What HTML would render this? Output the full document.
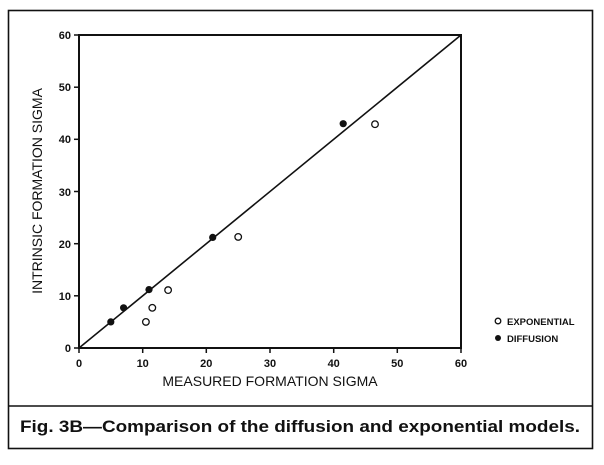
<!DOCTYPE html>
<html><head><style>
body{margin:0;background:#fff;width:604px;height:460px;overflow:hidden}
text{font-family:"Liberation Sans",sans-serif;fill:#111}
</style></head><body>
<svg width="604" height="460" viewBox="0 0 604 460">
<rect x="8.5" y="10.5" width="584" height="438" fill="none" stroke="#111" stroke-width="1.6"/>
<line x1="8" y1="406" x2="593" y2="406" stroke="#111" stroke-width="1.6"/>
<text x="20" y="432" font-size="16.5" font-weight="bold" textLength="560" lengthAdjust="spacingAndGlyphs">Fig. 3B—Comparison of the diffusion and exponential models.</text>
<rect x="79" y="35" width="382" height="313" fill="none" stroke="#111" stroke-width="2"/>
<line x1="79" y1="348" x2="461" y2="35" stroke="#111" stroke-width="1.6"/>
<g stroke="#111" stroke-width="1.5">
<line x1="74" y1="348" x2="79" y2="348"/><line x1="74" y1="295.8" x2="79" y2="295.8"/><line x1="74" y1="243.7" x2="79" y2="243.7"/><line x1="74" y1="191.5" x2="79" y2="191.5"/><line x1="74" y1="139.3" x2="79" y2="139.3"/><line x1="74" y1="87.2" x2="79" y2="87.2"/><line x1="74" y1="35" x2="79" y2="35"/>
<line x1="79" y1="348" x2="79" y2="353"/><line x1="142.7" y1="348" x2="142.7" y2="353"/><line x1="206.3" y1="348" x2="206.3" y2="353"/><line x1="270" y1="348" x2="270" y2="353"/><line x1="333.7" y1="348" x2="333.7" y2="353"/><line x1="397.3" y1="348" x2="397.3" y2="353"/><line x1="461" y1="348" x2="461" y2="353"/>
</g>
<g font-size="11" font-weight="bold" text-anchor="end">
<text x="71" y="352">0</text><text x="71" y="300">10</text><text x="71" y="248">20</text><text x="71" y="196">30</text><text x="71" y="143">40</text><text x="71" y="91">50</text><text x="71" y="39">60</text>
</g>
<g font-size="11" font-weight="bold" text-anchor="middle">
<text x="79" y="367">0</text><text x="142.7" y="367">10</text><text x="206.3" y="367">20</text><text x="270" y="367">30</text><text x="333.7" y="367">40</text><text x="397.3" y="367">50</text><text x="461" y="367">60</text>
</g>
<text x="270" y="386" font-size="14" text-anchor="middle">MEASURED FORMATION SIGMA</text>
<text transform="translate(42,191) rotate(-90)" font-size="14" text-anchor="middle">INTRINSIC FORMATION SIGMA</text>
<g fill="#111">
<circle cx="110.8" cy="321.9" r="3.6"/><circle cx="123.6" cy="307.8" r="3.6"/><circle cx="149" cy="289.6" r="3.6"/><circle cx="212.7" cy="237.4" r="3.6"/><circle cx="343.2" cy="123.7" r="3.6"/>
</g>
<g fill="#fff" stroke="#111" stroke-width="1.3">
<circle cx="145.9" cy="321.9" r="3.3"/><circle cx="152.3" cy="307.8" r="3.3"/><circle cx="168.1" cy="290.1" r="3.3"/><circle cx="238.2" cy="236.9" r="3.3"/><circle cx="375" cy="124.2" r="3.3"/>
<circle cx="498" cy="321" r="2.8"/>
</g>
<circle cx="498" cy="338" r="3" fill="#111"/>
<text x="507" y="325" font-size="9.5" font-weight="bold">EXPONENTIAL</text>
<text x="507" y="342" font-size="9.5" font-weight="bold">DIFFUSION</text>
</svg>
</body></html>
